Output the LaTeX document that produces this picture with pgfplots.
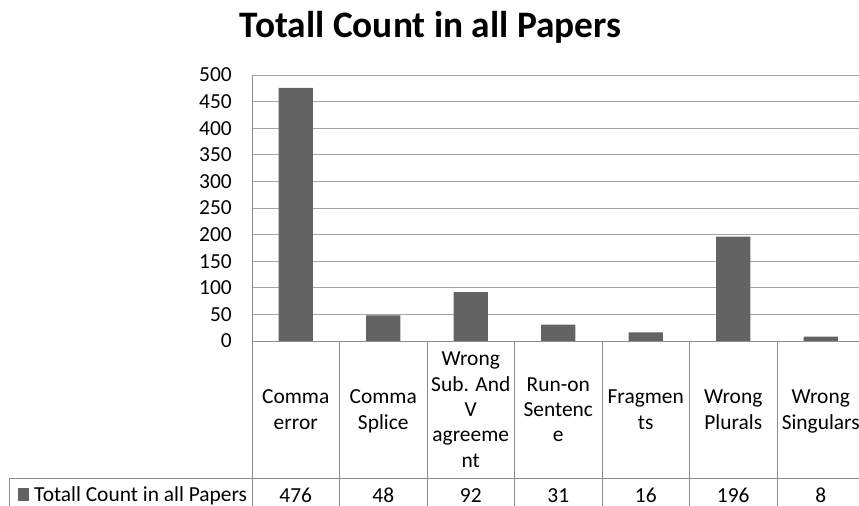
\documentclass[border=0pt]{standalone}
\usepackage{pgfplots}
\pgfplotsset{compat=1.18}
\usepackage{pgfplotstable}
\usepackage{fontspec}
\setmainfont{Carlito}
\definecolor{barc}{RGB}{99,99,99}
\definecolor{gridc}{RGB}{165,165,165}
\definecolor{linec}{RGB}{140,140,140}
\pgfplotstableread{
x value
0 476
1 48
2 92
3 31
4 16
5 196
6 8
}\data
\newcommand{\lblfont}{\fontsize{21.5}{25.5}\selectfont}
\newcommand{\s}{\strut}
\begin{document}
\begin{tikzpicture}
\path[use as bounding box, clip] (0,0) rectangle (859bp,506bp);
\node[font=\fontsize{37.5}{44}\selectfont\bfseries, anchor=base] at (430.5bp,468bp) {Totall Count in all Papers};
\begin{axis}[
  at={(252bp,165bp)}, anchor=south west,
  width=612.5bp, height=266bp, scale only axis,
  xmin=-0.5, xmax=6.5, ymin=0, ymax=500,
  ytick={0,50,...,500},
  xtick={0,...,6},
  xticklabels={{\s Comma\\\s error},{\s Comma\\\s Splice},{\s Wrong\\\s Sub. And\\\s V\\\s agreeme\\\s nt},{\s Run-on\\\s Sentenc\\\s e},{\s Fragmen\\\s ts},{\s Wrong\\\s Plurals},{\s Wrong\\\s Singulars}},
  xticklabel style={align=center, anchor=center, yshift=-70.5bp, font=\lblfont},
  yticklabel style={anchor=east, inner sep=0pt, xshift=-20bp, font=\lblfont},
  /pgf/number format/assume math mode=true,
  major tick length=0pt,
  ymajorgrids, major grid style={gridc, line width=0.9bp},
  axis x line*=bottom, axis y line*=left,
  axis line style={linec, line width=0.9bp, -},
  clip=false,
  legend style={at={(rel axis cs:-0.3820,-0.577)}, anchor=west, draw=none, fill=none, inner sep=0pt, font=\lblfont},
  legend image code/.code={\fill[barc] (0bp,-6.5bp) rectangle (11bp,6.5bp); \path (14bp,0bp);},
]
\addplot[ybar, bar width=0.39, fill=barc, draw=none] table[x=x, y=value]{\data};
\addlegendentry{Totall Count in all Papers}
\addplot[forget plot, draw=none, mark=none, nodes near coords, point meta=explicit,
  nodes near coords align=center,
  every node near coord/.append style={font=\lblfont, text=black, inner sep=0pt}]
  table[x=x, y expr=-290, meta=value]{\data};
\end{axis}
\foreach \k in {0,...,7} {
  \pgfmathsetmacro\xx{252+87.5*\k}
  \draw[linec, line width=0.9bp] (\xx bp,165bp) -- (\xx bp,0bp);
}
\draw[linec, line width=0.9bp] (9bp,0bp) -- (9bp,28bp) -- (864.5bp,28bp);
\end{tikzpicture}
\end{document}
